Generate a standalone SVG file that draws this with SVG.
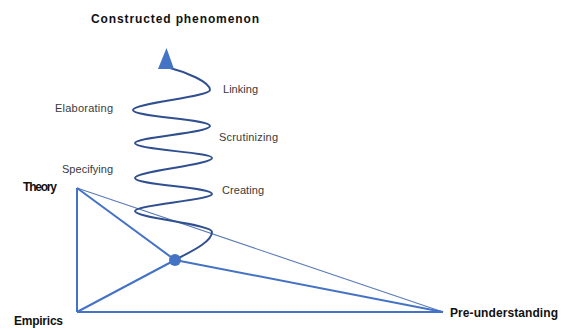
<svg xmlns="http://www.w3.org/2000/svg" width="563" height="329" viewBox="0 0 563 329">
<style>
.lbl{font-family:"Liberation Sans",Arial,sans-serif;font-size:11px;fill:#3a3a3a}
.bold{font-family:"Liberation Sans",Arial,sans-serif;font-size:12px;font-weight:bold;fill:#111}
.edge{stroke:#4472c4;stroke-width:2;fill:none}
.thin{stroke:#5b7bb8;stroke-width:1.1;fill:none}
.spiral{stroke:#2f4f8f;stroke-width:2;fill:none}
</style>
<rect width="563" height="329" fill="#fff"/>
<g id="connectors">
<line class="edge" x1="77" y1="188" x2="77" y2="312"/>
<line class="edge" x1="77" y1="312" x2="443" y2="312"/>
<line class="thin" x1="77" y1="188" x2="443" y2="312"/>
<line class="edge" x1="77" y1="188" x2="175" y2="260"/>
<line class="edge" x1="77" y1="312" x2="175" y2="260"/>
<line class="edge" x1="443" y1="312" x2="175" y2="260"/>
<path class="spiral" d="M170,68 C186,72 210,82 210,90 C210,97 133,103 133,110 C133,117 210,119 210,126 C210,133 135,137 135,143 C135,150 212,152 212,158 C212,165 135,171 135,178 C135,185 212,187 212,194 C212,200 135,205 135,211 C135,218 212,224 212,232 C212,242 190,252 175,260"/>
</g>
<g id="arrow"><polygon points="166.5,48 158,69 174,69" fill="#4472c4"/></g>
<g id="dot"><circle cx="175" cy="260" r="6" fill="#4472c4"/></g>
<g id="title"><text class="bold" x="91" y="23" font-size="13" textLength="168">Constructed phenomenon</text></g>
<g id="theory"><text class="bold" x="23" y="191" textLength="34">Theory</text></g>
<g id="empirics"><text class="bold" x="14" y="325" textLength="49">Empirics</text></g>
<g id="preunderstanding"><text class="bold" x="450" y="317" textLength="108">Pre-understanding</text></g>
<g id="linking"><text class="lbl" x="223" y="93" textLength="35">Linking</text></g>
<g id="elaborating"><text class="lbl" x="55" y="112" textLength="58">Elaborating</text></g>
<g id="scrutinizing"><text class="lbl" x="219" y="141" textLength="59">Scrutinizing</text></g>
<g id="specifying"><text class="lbl" x="62" y="173" textLength="51">Specifying</text></g>
<g id="creating"><text class="lbl" x="222" y="194" textLength="42">Creating</text></g>
</svg>
